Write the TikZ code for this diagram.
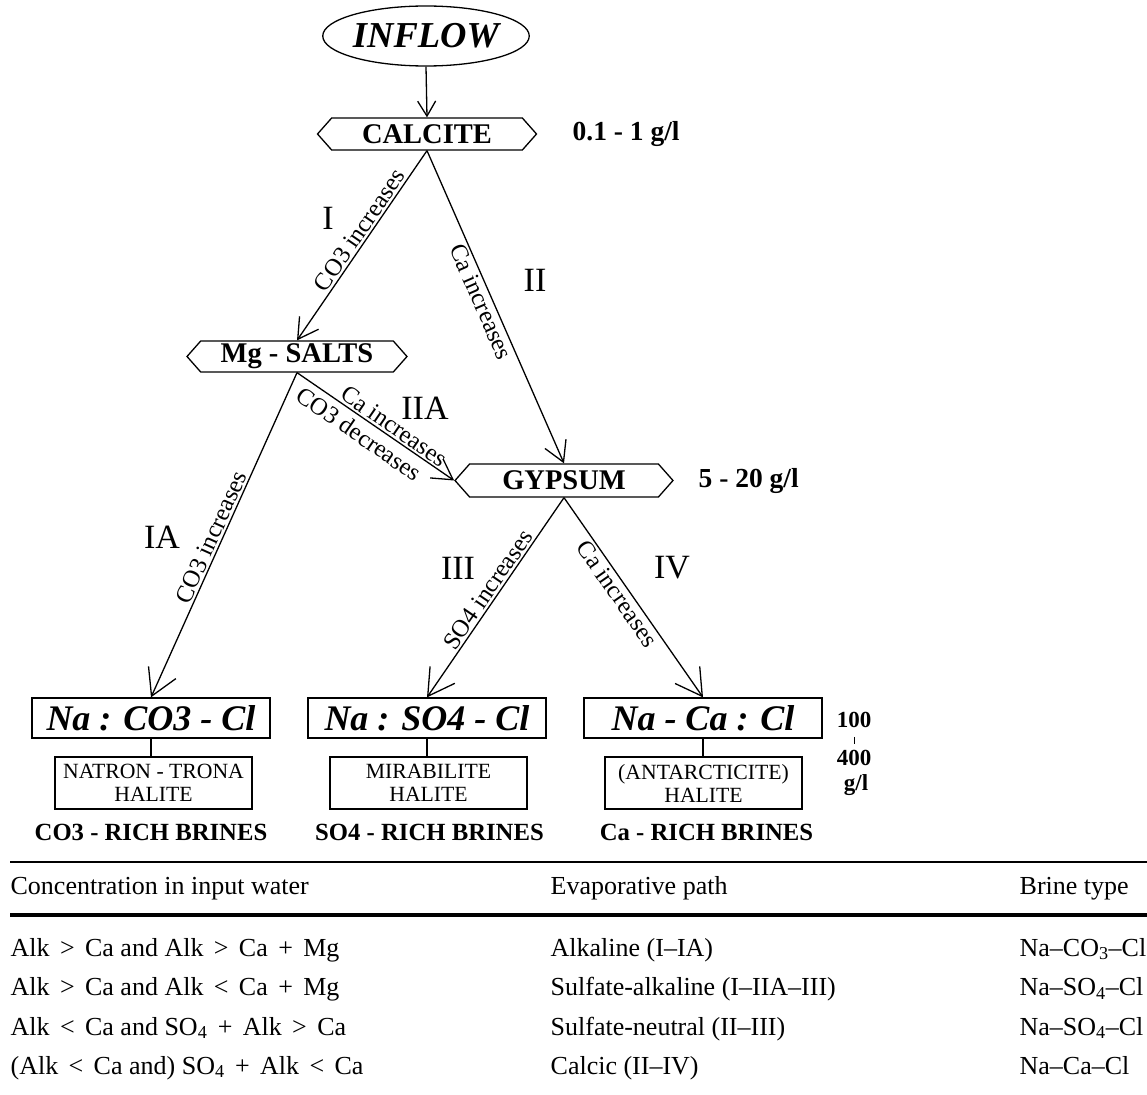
\documentclass[tikz,border=0pt]{standalone}
\usepackage{fontspec}
\setmainfont{Liberation Serif}
\usepackage{tikz}
\usetikzlibrary{arrows.meta,shapes.geometric,shapes.symbols}
\newcommand\rel[1]{\hspace{0.15em}#1\hspace{0.15em}}

\begin{document}
\begin{tikzpicture}[x=1pt,y=-1pt,line width=1.3pt,
	hexa/.style={draw,signal,signal to=west and east,signal pointer angle=97,inner sep=0pt,minimum height=32pt,minimum width=219pt,font=\fontsize{28.5}{32}\selectfont\bfseries},
	brine/.style={draw,rectangle,inner sep=0pt,minimum width=238pt,minimum height=40pt,font=\fontsize{36}{40}\selectfont\bfseries\itshape},
	salts/.style={draw,rectangle,inner sep=0pt,minimum width=197pt,minimum height=52pt,align=center,font=\fontsize{21.7}{23}\selectfont},
	conc/.style={inner sep=0pt,font=\fontsize{27.5}{30}\selectfont\bfseries},
	rich/.style={inner sep=0pt,font=\fontsize{24.7}{28}\selectfont\bfseries},
	trend/.style={sloped,inner sep=2pt,font=\fontsize{24.5}{28}\selectfont},
	roman/.style={inner sep=0pt,font=\fontsize{34}{38}\selectfont},
	cell/.style={anchor=base west,inner sep=0pt,font=\fontsize{26}{30}\selectfont},
	flow/.style 2 args={-{Straight Barb[length=#1pt,width=#2pt]}}]
	\useasboundingbox (0,0) rectangle (1147,1094);

	% flow chart
	\node[draw,ellipse,minimum width=192pt,minimum height=60pt,inner sep=0pt,font=\fontsize{36.5}{40}\selectfont\bfseries\itshape] (inflow) at (426,36) {INFLOW};
	\node[hexa] (calcite) at (427,134) {CALCITE};
	\node[hexa,minimum width=220pt,minimum height=31pt] (mgsalts) at (297,356.5) {Mg - SALTS};
	\node[hexa,minimum width=218pt,minimum height=33pt] (gypsum) at (564,480.5) {GYPSUM};
	\node[conc,anchor=west] (gl1) at (572,134) {0.1 - 1 g/l};
	\node[conc,anchor=west] (gl2) at (698,480.5) {5 - 20 g/l};

	\node[brine] (naco3) at (151,718) {Na : CO3 - Cl};
	\node[brine] (naso4) at (427,718) {Na : SO4 - Cl};
	\node[brine] (naca) at (703,718) {Na - Ca : Cl};
	\node[salts] (natron) at (153.5,783) {NATRON - TRONA\\HALITE};
	\node[salts] (mirab) at (428.5,783) {MIRABILITE\\HALITE};
	\node[salts] (antarc) at (703.5,783) {(ANTARCTICITE)\\HALITE};
	\node[rich] (rco3) at (151,832) {CO3 - RICH BRINES};
	\node[rich] (rso4) at (429.5,832) {SO4 - RICH BRINES};
	\node[rich] (rca) at (706.5,832) {Ca - RICH BRINES};

	\node[conc,font=\fontsize{23}{26}\selectfont\bfseries,anchor=base] (c100) at (854,727) {100};
	\node[conc,font=\fontsize{23}{26}\selectfont\bfseries,anchor=base] (c400) at (854,765) {400};
	\node[conc,font=\fontsize{23}{26}\selectfont\bfseries,anchor=base] (cgl) at (856,790) {g/l};
	\draw[line width=0.8pt] (c100.south) ++(0,9) -- ++(0,7);

	\draw[flow={15}{18}] (inflow.south) -- (calcite.north);
	\draw[flow={20}{23}] (calcite.south) -- (mgsalts.north)
		node[trend,above,pos=0.45] (lbli) {CO3 increases};
	\draw[flow={20}{23}] (calcite.south) -- (gypsum.north)
		node[trend,below,pos=0.47] (lblii) {Ca increases};
	\draw[flow={20}{23}] (mgsalts.south) -- (gypsum.west)
		node[trend,above,pos=0.58] (lbliia) {Ca increases}
		node[trend,below=4pt,pos=0.45] (lbliib) {CO3 decreases};
	\draw[flow={26}{30}] (mgsalts.south) -- (naco3.north)
		node[trend,above,pos=0.52] (lblia) {CO3 increases};
	\draw[flow={26}{30}] (gypsum.south) -- (naso4.north)
		node[trend,above,pos=0.49] (lbliii) {SO4 increases};
	\draw[flow={26}{30}] (gypsum.south) -- (naca.north)
		node[trend,below,pos=0.45] (lbliv) {Ca increases};

	\draw (naco3.south) -- (naco3.south |- natron.north);
	\draw (naso4.south) -- (naso4.south |- mirab.north);
	\draw (naca.south) -- (naca.south |- antarc.north);

	\node[roman] (ri) at (328,218) {I};
	\node[roman] (rii) at (535,280) {II};
	\node[roman] (riia) at (425,408) {IIA};
	\node[roman] (ria) at (162,537) {IA};
	\node[roman] (riii) at (458,568) {III};
	\node[roman] (riv) at (672,568) {IV};

	% table
	\draw[line width=1.2pt] (10,862) -- (1147,862);
	\draw[line width=4pt] (10,915) -- (1147,915);
	\node[cell] (h1) at (10,894) {Concentration in input water};
	\node[cell] (h2) at (550,894) {Evaporative path};
	\node[cell] (h3) at (1019,894) {Brine type};

	\node[cell] (a1) at (10,956) {Alk \rel{>} Ca and Alk \rel{>} Ca \rel{+} Mg};
	\node[cell] (b1) at (550,956) {Alkaline (I--IA)};
	\node[cell] (c1) at (1019,956) {Na--CO\textsubscript{3}--Cl};
	\node[cell] (a2) at (10,995.5) {Alk \rel{>} Ca and Alk \rel{<} Ca \rel{+} Mg};
	\node[cell] (b2) at (550,995.5) {Sulfate-alkaline (I--IIA--III)};
	\node[cell] (c2) at (1019,995.5) {Na--SO\textsubscript{4}--Cl};
	\node[cell] (a3) at (10,1035) {Alk \rel{<} Ca and SO\textsubscript{4} \rel{+} Alk \rel{>} Ca};
	\node[cell] (b3) at (550,1035) {Sulfate-neutral (II--III)};
	\node[cell] (c3) at (1019,1035) {Na--SO\textsubscript{4}--Cl};
	\node[cell] (a4) at (10,1074) {(Alk \rel{<} Ca and) SO\textsubscript{4} \rel{+} Alk \rel{<} Ca};
	\node[cell] (b4) at (550,1074) {Calcic (II--IV)};
	\node[cell] (c4) at (1019,1074) {Na--Ca--Cl};
\end{tikzpicture}
\end{document}
